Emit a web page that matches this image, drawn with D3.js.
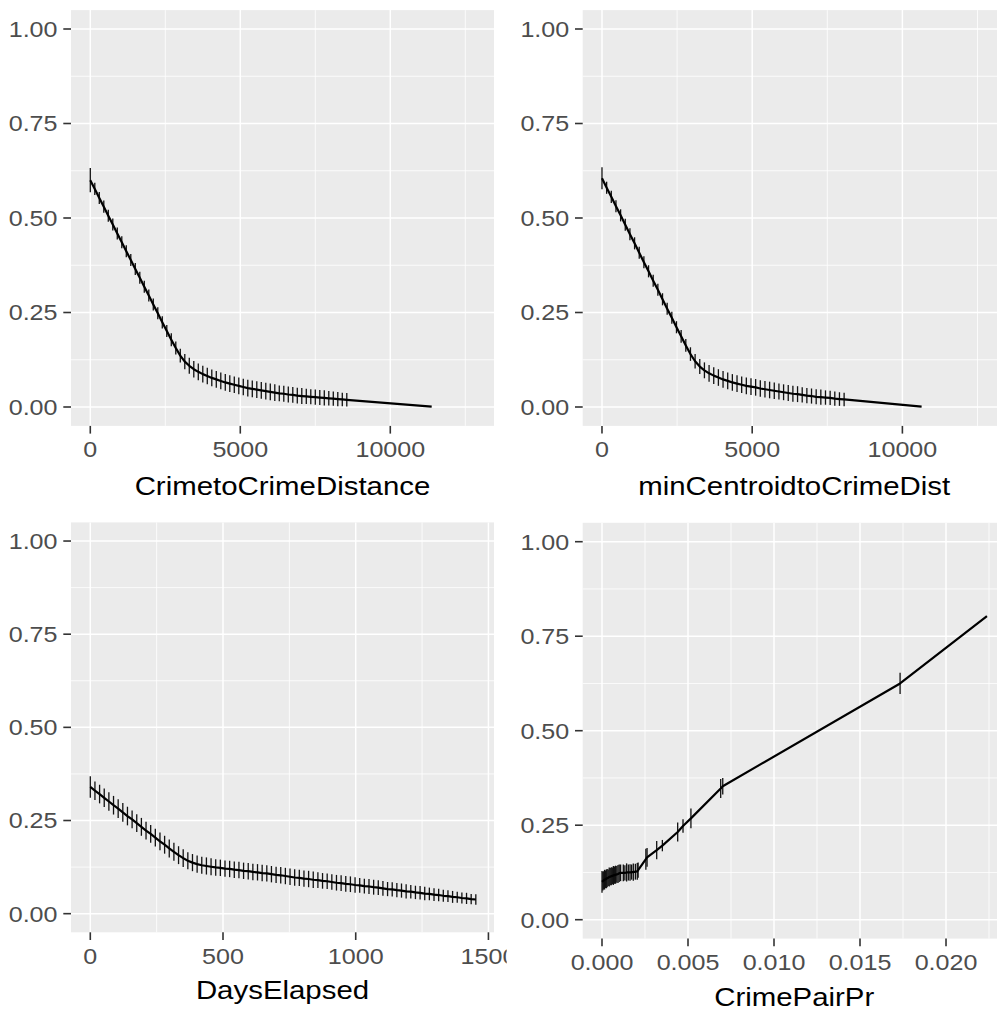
<!DOCTYPE html>
<html>
<head>
<meta charset="utf-8">
<script src="https://cdn.jsdelivr.net/npm/d3@7"></script>
<style>
  body { margin: 0; background: #fff; }
  svg { display: block; }
</style>
</head>
<body>
<script>
// ---------- shared y axis ----------
const yLimits = [-0.05, 1.05];
const yTicks = [0, 0.25, 0.5, 0.75, 1];
const yTickLabels = ["0.00", "0.25", "0.50", "0.75", "1.00"];
const yMinorTicks = [0.125, 0.375, 0.625, 0.875];

const xTitles = ["CrimetoCrimeDistance", "minCentroidtoCrimeDist", "DaysElapsed", "CrimePairPr"];

// ---------- CrimetoCrimeDistance ----------
const crimeDistLimits = [-643, 13457];
const crimeDistTicks = [0, 5000, 10000];
const crimeDistTickLabels = ["0", "5000", "10000"];
const crimeDistMinor = [2500, 7500, 12500];
const crimeDistX = [0, 150, 300, 450, 600, 750, 900, 1050, 1200, 1350, 1500, 1650, 1800, 1950, 2100, 2250, 2400, 2550, 2700, 2850,
  3000, 3150, 3300, 3450, 3600, 3750, 3900, 4050, 4200, 4350, 4500, 4650, 4800, 4950, 5100, 5250, 5400, 5550, 5700, 5850,
  6000, 6150, 6300, 6450, 6600, 6750, 6900, 7050, 7200, 7350, 7500, 7650, 7800, 7950, 8100, 8250, 8400, 8550, 11380];
const crimeDistY = [0.600, 0.577, 0.553, 0.530, 0.506, 0.483, 0.459, 0.436, 0.412, 0.389, 0.365, 0.342, 0.318, 0.295, 0.271, 0.248, 0.224, 0.201, 0.178, 0.156,
  0.136, 0.120, 0.109, 0.100, 0.093, 0.087, 0.082, 0.077, 0.073, 0.069, 0.065, 0.062, 0.059, 0.056, 0.053, 0.050, 0.048, 0.046, 0.044, 0.042,
  0.040, 0.038, 0.036, 0.035, 0.033, 0.032, 0.030, 0.029, 0.028, 0.027, 0.026, 0.025, 0.024, 0.023, 0.022, 0.021, 0.020, 0.019, 0.001];
const crimeDistSpread = [0.032, 0.016, 0.016, 0.016, 0.016, 0.016, 0.016, 0.016, 0.016, 0.016, 0.016, 0.016, 0.016, 0.016, 0.016, 0.016, 0.016, 0.016, 0.017, 0.017,
  0.018, 0.020, 0.021, 0.022, 0.022, 0.022, 0.022, 0.022, 0.022, 0.022, 0.022, 0.022, 0.022, 0.022, 0.022, 0.022, 0.022, 0.022, 0.022, 0.022,
  0.022, 0.022, 0.021, 0.021, 0.021, 0.021, 0.021, 0.021, 0.020, 0.020, 0.020, 0.020, 0.020, 0.019, 0.019, 0.019, 0.018, 0.018, 0];

// ---------- minCentroidtoCrimeDist ----------
const centroidLimits = [-642, 13439];
const centroidTicks = [0, 5000, 10000];
const centroidTickLabels = ["0", "5000", "10000"];
const centroidMinor = [2500, 7500, 12500];
const centroidX = [0, 155, 310, 465, 620, 775, 930, 1085, 1240, 1395, 1550, 1705, 1860, 2015, 2170, 2325, 2480, 2635, 2790, 2945,
  3100, 3255, 3410, 3565, 3720, 3875, 4030, 4185, 4340, 4495, 4650, 4805, 4960, 5115, 5270, 5425, 5580, 5735, 5890, 6045,
  6200, 6355, 6510, 6665, 6820, 6975, 7130, 7285, 7440, 7595, 7750, 7905, 8060, 10640];
const centroidY = [0.605, 0.580, 0.556, 0.531, 0.507, 0.482, 0.457, 0.433, 0.408, 0.383, 0.359, 0.334, 0.310, 0.285, 0.260, 0.236, 0.211, 0.187, 0.163, 0.140,
  0.121, 0.107, 0.097, 0.089, 0.083, 0.078, 0.073, 0.069, 0.065, 0.062, 0.059, 0.056, 0.054, 0.052, 0.049, 0.047, 0.045, 0.043, 0.041, 0.039,
  0.037, 0.035, 0.034, 0.032, 0.030, 0.029, 0.027, 0.026, 0.025, 0.024, 0.022, 0.021, 0.020, 0.001];
const centroidSpread = [0.029, 0.016, 0.016, 0.016, 0.016, 0.016, 0.016, 0.016, 0.016, 0.016, 0.016, 0.016, 0.016, 0.016, 0.016, 0.016, 0.016, 0.017, 0.017, 0.018,
  0.019, 0.020, 0.021, 0.022, 0.022, 0.022, 0.022, 0.022, 0.022, 0.022, 0.022, 0.022, 0.022, 0.022, 0.022, 0.022, 0.022, 0.022, 0.021, 0.021,
  0.021, 0.021, 0.021, 0.020, 0.020, 0.020, 0.020, 0.020, 0.019, 0.019, 0.019, 0.018, 0.018, 0];

// ---------- DaysElapsed ----------
const daysLimits = [-72.7, 1521];
const daysTicks = [0, 500, 1000, 1500];
const daysTickLabels = ["0", "500", "1000", "1500"];
const daysMinor = [250, 750, 1250];
const daysX = [0, 17.5, 35, 52.5, 70, 87.5, 105, 122.5, 140, 157.5, 175, 192.5, 210, 227.5, 245, 262.5, 280, 297.5, 315, 332.5,
  350, 367.5, 385, 402.5, 420, 437.5, 455, 472.5, 490, 507.5, 525, 542.5, 560, 577.5, 595, 612.5, 630, 647.5, 665, 682.5,
  700, 717.5, 735, 752.5, 770, 787.5, 805, 822.5, 840, 857.5, 875, 892.5, 910, 927.5, 945, 962.5, 980, 997.5, 1015, 1032.5,
  1050, 1067.5, 1085, 1102.5, 1120, 1137.5, 1155, 1172.5, 1190, 1207.5, 1225, 1242.5, 1260, 1277.5, 1295, 1312.5, 1330, 1347.5, 1365, 1382.5,
  1400, 1417.5, 1435, 1452.5];
const daysY = [0.340, 0.330, 0.321, 0.311, 0.301, 0.291, 0.282, 0.272, 0.262, 0.253, 0.243, 0.233, 0.223, 0.214, 0.204, 0.194, 0.185, 0.175, 0.166, 0.157,
  0.149, 0.142, 0.137, 0.133, 0.130, 0.128, 0.126, 0.124, 0.123, 0.121, 0.120, 0.118, 0.117, 0.115, 0.114, 0.112, 0.111, 0.109, 0.108, 0.106,
  0.104, 0.103, 0.101, 0.099, 0.097, 0.096, 0.094, 0.093, 0.091, 0.090, 0.088, 0.087, 0.085, 0.083, 0.082, 0.080, 0.079, 0.077, 0.076, 0.074,
  0.073, 0.071, 0.070, 0.068, 0.066, 0.065, 0.063, 0.062, 0.060, 0.059, 0.057, 0.056, 0.054, 0.053, 0.051, 0.050, 0.048, 0.047, 0.045, 0.044,
  0.042, 0.041, 0.039, 0.038];
const daysSpread = [0.029, 0.025, 0.025, 0.025, 0.025, 0.025, 0.025, 0.025, 0.025, 0.024, 0.024, 0.024, 0.024, 0.024, 0.024, 0.024, 0.024, 0.024, 0.024, 0.024,
  0.024, 0.023, 0.023, 0.023, 0.023, 0.023, 0.023, 0.022, 0.022, 0.022, 0.022, 0.022, 0.022, 0.022, 0.022, 0.022, 0.022, 0.022, 0.022, 0.022,
  0.022, 0.022, 0.022, 0.022, 0.022, 0.022, 0.022, 0.022, 0.022, 0.021, 0.021, 0.021, 0.021, 0.021, 0.021, 0.021, 0.021, 0.021, 0.020, 0.020,
  0.020, 0.020, 0.020, 0.020, 0.019, 0.019, 0.019, 0.019, 0.019, 0.018, 0.018, 0.018, 0.018, 0.017, 0.017, 0.017, 0.016, 0.016, 0.016, 0.015,
  0.015, 0.015, 0.014, 0.014];

// ---------- CrimePairPr ----------
const pairPrLimits = [-0.001122, 0.02347];
const pairPrTicks = [0, 0.005, 0.01, 0.015, 0.02];
const pairPrTickLabels = ["0.000", "0.005", "0.010", "0.015", "0.020"];
const pairPrMinor = [0.0025, 0.0075, 0.0125, 0.0175, 0.0225];
const pairPrX = [0, 0.00005, 0.0001, 0.00015, 0.0002, 0.00025, 0.0003, 0.00036, 0.00042, 0.00048, 0.00054, 0.0006, 0.00066, 0.00072, 0.00079, 0.00086, 0.00093, 0.001, 0.00108,
  0.00124, 0.00133, 0.00143, 0.00153, 0.00163, 0.00172, 0.00182, 0.00194, 0.00205, 0.0021,
  0.00255, 0.00262, 0.00318, 0.00351, 0.0044, 0.00471, 0.00517, 0.0069, 0.00702, 0.01733, 0.02238];
const pairPrY = [0.100, 0.102, 0.104, 0.106, 0.107, 0.108, 0.110, 0.111, 0.113, 0.114, 0.115, 0.116, 0.117, 0.118, 0.119, 0.120, 0.121, 0.123, 0.124,
  0.124, 0.124, 0.125, 0.125, 0.125, 0.126, 0.126, 0.127, 0.128, 0.131,
  0.160, 0.165, 0.184, 0.196, 0.232, 0.248, 0.268, 0.347, 0.353, 0.625, 0.803];
const pairPrSpread = [0.029, 0.025, 0.024, 0.026, 0.023, 0.025, 0.024, 0.022, 0.025, 0.023, 0.024, 0.022, 0.025, 0.023, 0.024, 0.022, 0.024, 0.023, 0.022,
  0.022, 0.020, 0.024, 0.021, 0.022, 0.020, 0.023, 0.021, 0.022, 0.020,
  0.028, 0.025, 0.024, 0.015, 0.025, 0.018, 0.026, 0.025, 0.022, 0.028, 0];

// ---------- figure ----------
const W = 997, H = 1013;
const FONT = "'Liberation Sans', Arial, Helvetica, sans-serif";
const TEXT_STRETCH = 1.14;

const svg = d3.select("body").append("svg")
  .attr("width", W).attr("height", H)
  .attr("viewBox", `0 0 ${W} ${H}`);

const panels = [
  { title: xTitles[0], xs: crimeDistX, ys: crimeDistY, spread: crimeDistSpread,
    limits: crimeDistLimits, ticks: crimeDistTicks, tickLabels: crimeDistTickLabels, minor: crimeDistMinor,
    cell: [0, 0, 506.7, 506.5], left: 71, right: 494, top: 10.1, bottom: 425.9, labelY: 457.3, titleY: 494.5 },
  { title: xTitles[1], xs: centroidX, ys: centroidY, spread: centroidSpread,
    limits: centroidLimits, ticks: centroidTicks, tickLabels: centroidTickLabels, minor: centroidMinor,
    cell: [506.7, 0, 506.3, 506.5], left: 582.7, right: 1005.7, top: 10.1, bottom: 425.9, labelY: 456.8, titleY: 494.5 },
  { title: xTitles[2], xs: daysX, ys: daysY, spread: daysSpread,
    limits: daysLimits, ticks: daysTicks, tickLabels: daysTickLabels, minor: daysMinor,
    cell: [0, 506.5, 506.7, 506.5], left: 71, right: 494, top: 522.4, bottom: 932.3, labelY: 963.8, titleY: 999.3 },
  { title: xTitles[3], xs: pairPrX, ys: pairPrY, spread: pairPrSpread,
    limits: pairPrLimits, ticks: pairPrTicks, tickLabels: pairPrTickLabels, minor: pairPrMinor,
    cell: [506.7, 506.5, 506.3, 506.5], left: 582.7, right: 1005.7, top: 522.8, bottom: 938.6, labelY: 970, titleY: 1005.5 }
];

function addText(g, x, y, str, size, anchor, fill) {
  g.append("text")
    .attr("transform", `translate(${x},${y}) scale(${TEXT_STRETCH},1)`)
    .attr("text-anchor", anchor)
    .attr("font-family", FONT)
    .attr("font-size", size)
    .attr("fill", fill)
    .text(str);
}

panels.forEach(p => {
  const g = svg.append("g");

  // white plot background for this cell
  g.append("rect")
    .attr("x", p.cell[0]).attr("y", p.cell[1])
    .attr("width", p.cell[2]).attr("height", p.cell[3])
    .attr("fill", "#ffffff");

  const x = d3.scaleLinear().domain(p.limits).range([p.left, p.right]);
  const y = d3.scaleLinear().domain(yLimits).range([p.bottom, p.top]);

  // panel
  g.append("rect")
    .attr("x", p.left).attr("y", p.top)
    .attr("width", p.right - p.left).attr("height", p.bottom - p.top)
    .attr("fill", "#EBEBEB");

  // minor grid
  g.append("g").selectAll("line").data(yMinorTicks).join("line")
    .attr("x1", p.left).attr("x2", p.right)
    .attr("y1", d => y(d)).attr("y2", d => y(d))
    .attr("stroke", "#fff").attr("stroke-width", 0.8);
  g.append("g").selectAll("line").data(p.minor).join("line")
    .attr("x1", d => x(d)).attr("x2", d => x(d))
    .attr("y1", p.top).attr("y2", p.bottom)
    .attr("stroke", "#fff").attr("stroke-width", 0.8);

  // major grid
  g.append("g").selectAll("line").data(yTicks).join("line")
    .attr("x1", p.left).attr("x2", p.right)
    .attr("y1", d => y(d)).attr("y2", d => y(d))
    .attr("stroke", "#fff").attr("stroke-width", 1.5);
  g.append("g").selectAll("line").data(p.ticks).join("line")
    .attr("x1", d => x(d)).attr("x2", d => x(d))
    .attr("y1", p.top).attr("y2", p.bottom)
    .attr("stroke", "#fff").attr("stroke-width", 1.5);

  // points of the fitted curve
  const pts = p.xs.map((v, i) => ({ x: v, y: p.ys[i], s: p.spread[i] }));

  // vertical spread marks
  g.append("g").selectAll("line").data(pts.filter(d => d.s > 0)).join("line")
    .attr("x1", d => x(d.x)).attr("x2", d => x(d.x))
    .attr("y1", d => y(d.y - d.s)).attr("y2", d => y(d.y + d.s))
    .attr("stroke", "#111").attr("stroke-width", 1.3);

  // fitted line
  g.append("path")
    .datum(pts)
    .attr("d", d3.line().x(d => x(d.x)).y(d => y(d.y)))
    .attr("fill", "none")
    .attr("stroke", "#000")
    .attr("stroke-width", 2.2)
    .attr("stroke-linejoin", "round");

  // axis ticks
  const tickLen = 7.7;
  g.append("g").selectAll("line").data(yTicks).join("line")
    .attr("x1", p.left - tickLen).attr("x2", p.left)
    .attr("y1", d => y(d)).attr("y2", d => y(d))
    .attr("stroke", "#333").attr("stroke-width", 1.6);
  g.append("g").selectAll("line").data(p.ticks).join("line")
    .attr("x1", d => x(d)).attr("x2", d => x(d))
    .attr("y1", p.bottom).attr("y2", p.bottom + tickLen)
    .attr("stroke", "#333").attr("stroke-width", 1.6);

  // tick labels
  yTicks.forEach((t, i) => addText(g, p.left - 13.5, y(t) + 7.9, yTickLabels[i], 22, "end", "#4D4D4D"));
  p.ticks.forEach((t, i) => addText(g, x(t), p.labelY, p.tickLabels[i], 22, "middle", "#4D4D4D"));

  // axis title
  addText(g, (p.left + p.right) / 2, p.titleY, p.title, 25.8, "middle", "#000");
});
</script>
</body>
</html>
